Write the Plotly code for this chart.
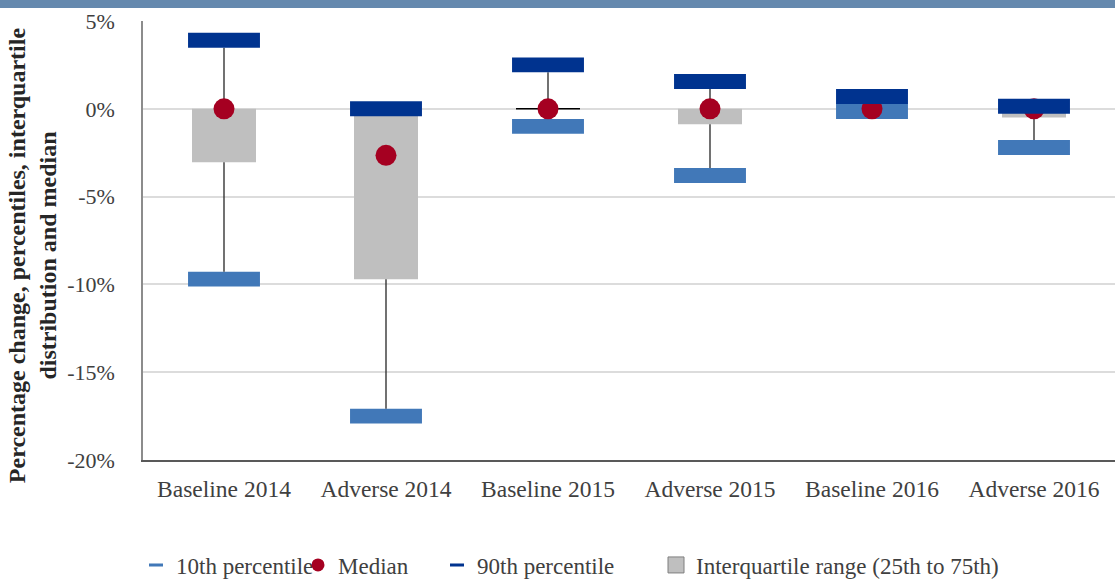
import plotly.graph_objects as go

# Scenario categories
categories = ["Baseline 2014", "Adverse 2014", "Baseline 2015",
              "Adverse 2015", "Baseline 2016", "Adverse 2016"]

# Distribution of percentage changes (in %)
p90 = [3.9, 0.0, 2.5, 1.55, 0.7, 0.15]
p75 = [0.0, -0.3, 0.0, 0.0, 0.0, 0.0]
median = [0.0, -2.65, 0.0, 0.0, 0.0, 0.0]
p25 = [-3.05, -9.7, 0.0, -0.88, -0.05, -0.5]
p10 = [-9.7, -17.5, -1.0, -3.8, -0.15, -2.2]

y_ticks = [5, 0, -5, -10, -15, -20]
y_tick_text = ["5%", "0%", "-5%", "-10%", "-15%", "-20%"]

# Styling
FONT = "Liberation Serif, Times New Roman, serif"
C_P10 = "#4178b8"
C_P90 = "#00338f"
C_MED = "#a50021"
C_IQR = "#bfbfbf"
C_WHISK = "#262626"
MARK_THICK = 0.85     # thickness of percentile bars, in percentage points
MARK_W = 0.444        # width of percentile bars, in category units
BOX_W = 0.395         # width of interquartile boxes, in category units
Y_RANGE = [-20, 5]

xs = list(range(len(categories)))
half = MARK_THICK / 2
fig = go.Figure()

# Whiskers: 90th percentile down to box top, box bottom down to 10th percentile
wx, wy = [], []
for i in xs:
    top, bottom = p90[i] - half, p75[i]
    if top > bottom:
        wx += [i, i, None]
        wy += [top, bottom, None]
    top, bottom = p25[i], p10[i] + half
    if top > bottom:
        wx += [i, i, None]
        wy += [top, bottom, None]
fig.add_trace(go.Scatter(x=wx, y=wy, mode="lines",
                         line=dict(color=C_WHISK, width=1.3),
                         showlegend=False, hoverinfo="skip"))

# Interquartile boxes
fig.add_trace(go.Bar(x=xs, y=[a - b for a, b in zip(p75, p25)], base=p25,
                     width=BOX_W, marker=dict(color=C_IQR, line=dict(width=0)),
                     showlegend=False, name="Interquartile range"))

# Collapsed boxes (25th == 75th) drawn as a flat line
zx, zy = [], []
for i in xs:
    if p25[i] == p75[i]:
        zx += [i - BOX_W / 2, i + BOX_W / 2, None]
        zy += [p25[i], p25[i], None]
fig.add_trace(go.Scatter(x=zx, y=zy, mode="lines",
                         line=dict(color="#000000", width=1.5),
                         showlegend=False, hoverinfo="skip"))

# 10th percentile bars
fig.add_trace(go.Bar(x=xs, y=[MARK_THICK] * len(xs),
                     base=[v - half for v in p10], width=MARK_W,
                     marker=dict(color=C_P10, line=dict(width=0)),
                     showlegend=False, name="10th percentile"))

# Medians
fig.add_trace(go.Scatter(x=xs, y=median, mode="markers",
                         marker=dict(color=C_MED, size=21),
                         showlegend=False, name="Median"))

# 90th percentile bars, on an overlaid axis so they sit above the medians
fig.add_trace(go.Bar(x=xs, y=[MARK_THICK] * len(xs), yaxis="y2",
                     base=[v - half for v in p90], width=MARK_W,
                     marker=dict(color=C_P90, line=dict(width=0)),
                     showlegend=False, name="90th percentile"))

# Legend entries
fig.add_trace(go.Scatter(x=[None], y=[None], mode="markers", name="10th percentile",
                         legend="legend",
                         marker=dict(symbol="line-ew", size=10,
                                     line=dict(color=C_P10, width=3))))
fig.add_trace(go.Scatter(x=[None], y=[None], mode="markers", name="Median",
                         legend="legend2",
                         marker=dict(color=C_MED, size=13)))
fig.add_trace(go.Scatter(x=[None], y=[None], mode="markers", name="90th percentile",
                         legend="legend3",
                         marker=dict(symbol="line-ew", size=10,
                                     line=dict(color=C_P90, width=3))))
fig.add_trace(go.Scatter(x=[None], y=[None], mode="markers",
                         name="Interquartile range (25th to 75th)", legend="legend4",
                         marker=dict(symbol="square", size=21, color=C_IQR,
                                     line=dict(color="#7f7f7f", width=1))))

legend_style = dict(orientation="h", xref="container", yref="container",
                    yanchor="middle", y=1 - 565 / 581, xanchor="left",
                    bgcolor="rgba(0,0,0,0)",
                    font=dict(family=FONT, size=23, color="#404040"))

fig.update_layout(
    width=1115, height=581,
    margin=dict(l=143, r=0, t=21, b=121),
    paper_bgcolor="white", plot_bgcolor="white",
    barmode="overlay",
    font=dict(family=FONT, color="#404040"),
    legend=dict(x=136 / 1115, **legend_style),
    legend2=dict(x=298 / 1115, **legend_style),
    legend3=dict(x=437 / 1115, **legend_style),
    legend4=dict(x=656 / 1115, **legend_style),
    xaxis=dict(range=[-0.5, 5.5], tickvals=xs, ticktext=categories,
               showgrid=False, zeroline=False, showline=True,
               linecolor="#595959", linewidth=1.5, ticks="",
               ticklabelstandoff=7,
               tickfont=dict(family=FONT, size=23.5, color="#404040")),
    yaxis=dict(range=Y_RANGE, tickvals=y_ticks, ticktext=y_tick_text,
               showgrid=True, gridcolor="#dcdcdc", gridwidth=1.5,
               zeroline=False, showline=True, linecolor="#8c8c8c", linewidth=1.5,
               ticks="", ticklabelstandoff=22,
               tickfont=dict(family=FONT, size=22, color="#404040")),
    yaxis2=dict(range=Y_RANGE, overlaying="y", visible=False),
    shapes=[dict(type="rect", xref="paper", yref="paper",
                 x0=-0.2, x1=1.01, y0=(460 - 8) / 439, y1=1.1,
                 fillcolor="#6589ae", line=dict(width=0), layer="above")],
    annotations=[dict(text="Percentage change, percentiles, interquartile<br>distribution and median",
                      xref="paper", yref="paper", x=-0.113, y=0.467,
                      xanchor="center", yanchor="middle", textangle=-90,
                      showarrow=False,
                      font=dict(family=FONT, size=24, color="#262626", weight="bold"))],
)

fig.write_html("out.html")
